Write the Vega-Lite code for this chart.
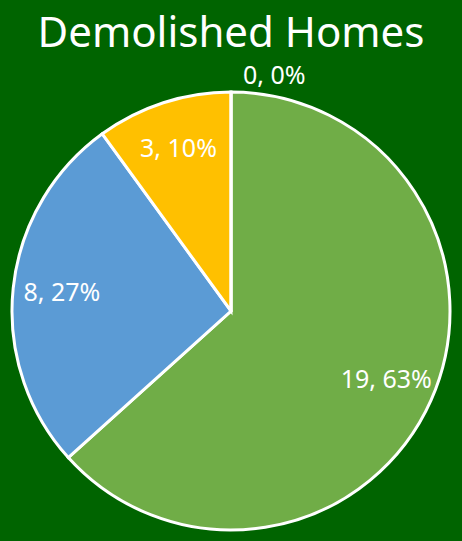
{
  "$schema": "https://vega.github.io/schema/vega-lite/v6.json",
  "width": 462,
  "height": 460,
  "padding": {"top": 81, "left": 0, "right": 0, "bottom": 0},
  "autosize": {"type": "none"},
  "background": "#006400",
  "view": {"stroke": null},
  "title": {
    "text": "Demolished Homes",
    "color": "white",
    "font": "Noto Sans",
    "fontSize": 42,
    "fontWeight": "normal",
    "anchor": "middle",
    "offset": 8
  },
  "data": {
    "values": [
      {"Slice": 1, "Category": "Green", "Count": 19, "Label": "19, 63%"},
      {"Slice": 2, "Category": "Blue", "Count": 8, "Label": "8, 27%"},
      {"Slice": 3, "Category": "Yellow", "Count": 3, "Label": "3, 10%"},
      {"Slice": 4, "Category": "Zero", "Count": 0, "Label": "0, 0%"}
    ]
  },
  "encoding": {
    "theta": {"field": "Count", "type": "quantitative", "stack": true},
    "order": {"field": "Slice", "type": "quantitative"}
  },
  "layer": [
    {
      "mark": {"type": "arc", "outerRadius": 219, "stroke": "white", "strokeWidth": 3},
      "encoding": {
        "color": {
          "field": "Category",
          "type": "nominal",
          "scale": {"domain": ["Green", "Blue", "Yellow", "Zero"], "range": ["#70AD47", "#5B9BD5", "#FFC000", "#A5A5A5"]},
          "legend": null
        }
      }
    },
    {
      "mark": {"type": "text", "radius": 170, "color": "white", "font": "Noto Sans", "fontSize": 25},
      "encoding": {
        "text": {"condition": {"test": "datum.Count == 0", "value": ""}, "field": "Label"}
      }
    },
    {
      "mark": {"type": "text", "radius": 235, "color": "white", "font": "Noto Sans", "fontSize": 25, "align": "left", "dx": 12},
      "encoding": {
        "text": {"condition": {"test": "datum.Count != 0", "value": ""}, "field": "Label"}
      }
    }
  ]
}
